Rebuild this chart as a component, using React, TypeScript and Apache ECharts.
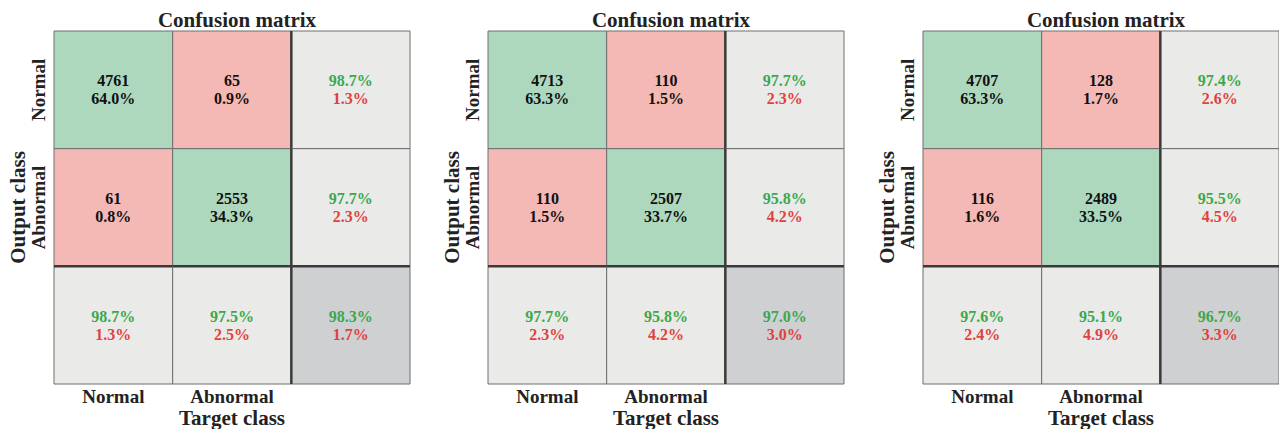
import React, { useEffect, useRef } from "react";
import * as echarts from "echarts";

const classLabels = ["Normal", "Abnormal", ""];
const titleText = "Confusion matrix";
const xName = "Target class";
const yName = "Output class";

// Panel A
const countsA = [4761, 65, 61, 2553];
const pctA = [64.0, 0.9, 0.8, 34.3];
const rowAccA = [98.7, 97.7];
const rowErrA = [1.3, 2.3];
const colAccA = [98.7, 97.5];
const colErrA = [1.3, 2.5];
const totalA = [98.3, 1.7];

// Panel B
const countsB = [4713, 110, 110, 2507];
const pctB = [63.3, 1.5, 1.5, 33.7];
const rowAccB = [97.7, 95.8];
const rowErrB = [2.3, 4.2];
const colAccB = [97.7, 95.8];
const colErrB = [2.3, 4.2];
const totalB = [97.0, 3.0];

// Panel C
const countsC = [4707, 128, 116, 2489];
const pctC = [63.3, 1.7, 1.6, 33.5];
const rowAccC = [97.4, 95.5];
const rowErrC = [2.6, 4.5];
const colAccC = [97.6, 95.1];
const colErrC = [2.4, 4.9];
const totalC = [96.7, 3.3];

const FONT = '"Liberation Serif", "Times New Roman", serif';
const GREEN_CELL = "#add8be";
const RED_CELL = "#f4b8b5";
const GRAY_CELL = "#eaeae8";
const DARK_CELL = "#cfd0d2";
const GREEN_TXT = "#3aa94a";
const RED_TXT = "#e0423f";

type Cell = { col: number; row: number; fill: string; l1: string; l2: string; c1: string; c2: string };

function makeCells(counts: number[], pct: number[], rowAcc: number[], rowErr: number[], colAcc: number[], colErr: number[], total: number[]): Cell[] {
  const cells: Cell[] = [];
  for (let r = 0; r < 2; r++) {
    for (let c = 0; c < 2; c++) {
      const k = r * 2 + c;
      cells.push({
        col: c, row: r,
        fill: r === c ? GREEN_CELL : RED_CELL,
        l1: String(counts[k]), l2: pct[k].toFixed(1) + "%",
        c1: "#111", c2: "#111",
      });
    }
  }
  for (let r = 0; r < 2; r++) {
    cells.push({ col: 2, row: r, fill: GRAY_CELL, l1: rowAcc[r].toFixed(1) + "%", l2: rowErr[r].toFixed(1) + "%", c1: GREEN_TXT, c2: RED_TXT });
  }
  for (let c = 0; c < 2; c++) {
    cells.push({ col: c, row: 2, fill: GRAY_CELL, l1: colAcc[c].toFixed(1) + "%", l2: colErr[c].toFixed(1) + "%", c1: GREEN_TXT, c2: RED_TXT });
  }
  cells.push({ col: 2, row: 2, fill: DARK_CELL, l1: total[0].toFixed(1) + "%", l2: total[1].toFixed(1) + "%", c1: GREEN_TXT, c2: RED_TXT });
  return cells;
}

const panels = [
  makeCells(countsA, pctA, rowAccA, rowErrA, colAccA, colErrA, totalA),
  makeCells(countsB, pctB, rowAccB, rowErrB, colAccB, colErrB, totalB),
  makeCells(countsC, pctC, rowAccC, rowErrC, colAccC, colErrC, totalC),
];

const gridLefts = [54, 488, 923];
const gridTop = 31;
const gridW = 356;
const gridH = 353;

export default function App() {
  const ref = useRef<HTMLDivElement>(null);
  useEffect(() => {
    if (!ref.current) return;
    const chart = echarts.init(ref.current, null, { renderer: "svg" });
    const grid: any[] = [];
    const xAxis: any[] = [];
    const yAxis: any[] = [];
    const series: any[] = [];
    const title: any[] = [];
    panels.forEach((cells, i) => {
      grid.push({ left: gridLefts[i], top: gridTop, width: gridW, height: gridH, outerBoundsMode: "none", containLabel: false });
      title.push({
        text: titleText, left: gridLefts[i] + gridW / 2, top: 4, textAlign: "center",
        textStyle: { fontFamily: FONT, fontWeight: "bold", fontSize: 21, color: "#222" },
      });
      xAxis.push({
        type: "category", gridIndex: i, data: classLabels, position: "bottom",
        axisLine: { show: false }, axisTick: { show: false }, splitLine: { show: false },
        axisLabel: { margin: 3, fontFamily: FONT, fontWeight: "bold", fontSize: 19, color: "#222" },
        name: xName, nameLocation: "middle", nameGap: 23, nameMoveOverlap: false,
        nameTextStyle: { fontFamily: FONT, fontWeight: "bold", fontSize: 21, color: "#222" },
      });
      yAxis.push({
        type: "category", gridIndex: i, data: classLabels, inverse: true,
        axisLine: { show: false }, axisTick: { show: false }, splitLine: { show: false },
        axisLabel: { rotate: 90, margin: 6, fontFamily: FONT, fontWeight: "bold", fontSize: 19, color: "#222" },
        name: yName, nameLocation: "middle", nameGap: 26, nameRotate: 90,
        nameTextStyle: { fontFamily: FONT, fontWeight: "bold", fontSize: 21, color: "#222" },
      });
      series.push({
        type: "custom", xAxisIndex: i, yAxisIndex: i,
        data: cells.map((c) => [c.col, c.row]),
        renderItem: (params: any, api: any) => {
          const cell = cells[params.dataIndex];
          const col = api.value(0);
          const row = api.value(1);
          const ctr = api.coord([col, row]);
          const s = api.size([1, 1]);
          const x0 = ctr[0] - s[0] / 2;
          const y0 = ctr[1] - s[1] / 2;
          const font = `bold 16px ${FONT}`;
          const children: any[] = [
            { type: "rect", shape: { x: x0, y: y0, width: s[0], height: s[1] }, style: { fill: cell.fill, stroke: "#6e6e6e", lineWidth: 1 } },
            { type: "text", style: { text: cell.l1, x: ctr[0], y: ctr[1] - 9, fill: cell.c1, font, textAlign: "center", textVerticalAlign: "middle" } },
            { type: "text", style: { text: cell.l2, x: ctr[0], y: ctr[1] + 9, fill: cell.c2, font, textAlign: "center", textVerticalAlign: "middle" } },
          ];
          if (col === 2) {
            children.push({ type: "line", shape: { x1: x0, y1: y0, x2: x0, y2: y0 + s[1] }, style: { stroke: "#3a3a3a", lineWidth: 2.5 } });
          }
          if (row === 2) {
            children.push({ type: "line", shape: { x1: x0, y1: y0, x2: x0 + s[0], y2: y0 }, style: { stroke: "#3a3a3a", lineWidth: 2.5 } });
          }
          return { type: "group", children };
        },
      });
    });
    chart.setOption({
      animation: false,
      backgroundColor: "#ffffff",
      title, grid, xAxis, yAxis, series,
    });
    return () => chart.dispose();
  }, []);
  return <div ref={ref} style={{ position: "absolute", left: 0, top: 0, width: 1279, height: 429 }} />;
}
